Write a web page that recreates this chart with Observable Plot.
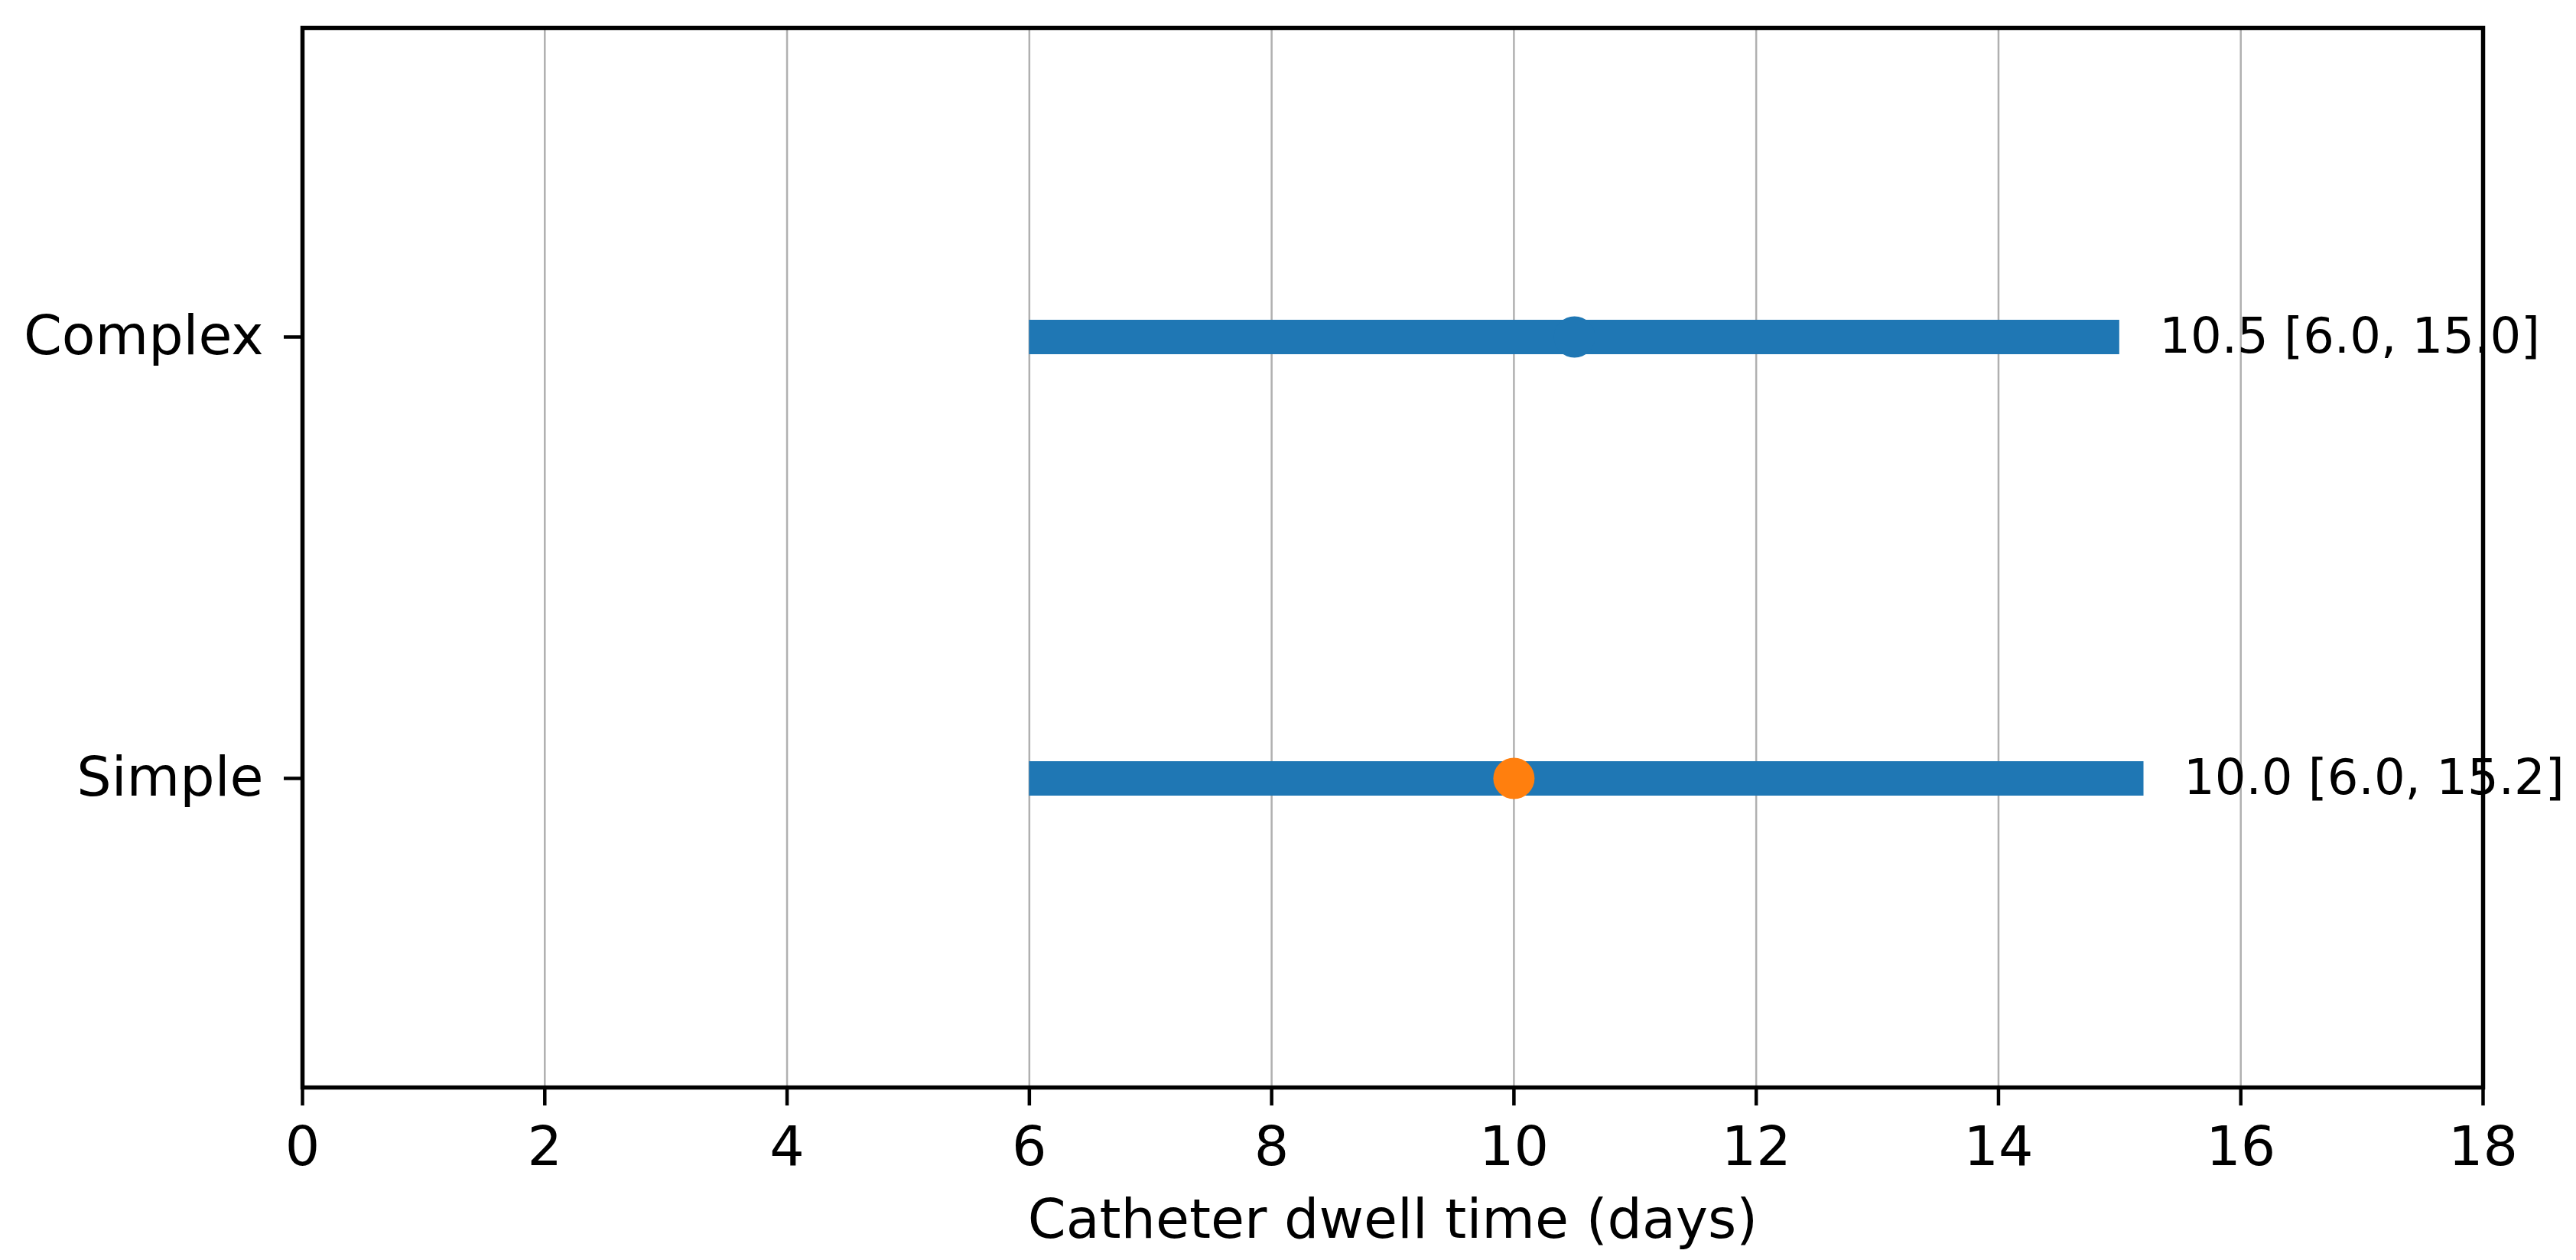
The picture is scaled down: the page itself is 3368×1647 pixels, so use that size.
<!DOCTYPE html>
<html>
<head>
<meta charset="utf-8">
<script src="https://cdn.jsdelivr.net/npm/d3@7"></script>
<script src="https://cdn.jsdelivr.net/npm/@observablehq/plot@0.6"></script>
<style>
  html, body { margin: 0; padding: 0; background: #ffffff; }
  #chart { width: 3368px; height: 1647px; }
</style>
</head>
<body>
<div id="chart"></div>
<script>
// ---- data ----
const groups = ["Complex", "Simple"];
const medians = [10.5, 10.0];
const lows = [6.0, 6.0];
const highs = [15.0, 15.2];
const xTicks = [0, 2, 4, 6, 8, 10, 12, 14, 16, 18];
const xLabel = "Catheter dwell time (days)";
const dotColors = ["#1f77b4", "#ff7f0e"];

const rows = groups.map((g, i) => ({
  group: g,
  median: medians[i],
  lo: lows[i],
  hi: highs[i],
  label: `${medians[i].toFixed(1)} [${lows[i].toFixed(1)}, ${highs[i].toFixed(1)}]`
}));

const font = "DejaVu Sans, sans-serif";

const chart = Plot.plot({
  width: 3368,
  height: 1647,
  marginLeft: 395,
  marginRight: 122,
  marginTop: 36,
  marginBottom: 226,
  style: { fontFamily: font, color: "black", background: "white", overflow: "visible" },
  x: { domain: [0, 18], ticks: xTicks, label: null },
  y: { type: "point", domain: groups, padding: 0.7, label: null },
  color: { domain: groups, range: dotColors },
  marks: [
    Plot.gridX(xTicks, { stroke: "#b0b0b0", strokeOpacity: 1, strokeWidth: 2.5 }),
    Plot.ruleY(rows, { y: "group", x1: "lo", x2: "hi", stroke: "#1f77b4", strokeWidth: 45 }),
    Plot.dot(rows, { x: "median", y: "group", fill: "group", r: 27, stroke: null }),
    Plot.text(rows, { x: "hi", y: "group", text: "label", textAnchor: "start", dx: 52, fontSize: 64, fill: "black" }),
    Plot.axisX(xTicks, { tickSize: 24, tickPadding: 27, fontSize: 71.5, strokeWidth: 4.5, label: null, tickFormat: d => String(d) }),
    Plot.axisY({ tickSize: 24, tickPadding: 27, fontSize: 71.5, strokeWidth: 4.5, label: null }),
    Plot.text([xLabel], { frameAnchor: "bottom", dy: 174, lineAnchor: "middle", fontSize: 71.5, fill: "black" }),
    Plot.frame({ stroke: "black", strokeWidth: 5.5 })
  ]
});

document.getElementById("chart").appendChild(chart);
</script>
</body>
</html>
